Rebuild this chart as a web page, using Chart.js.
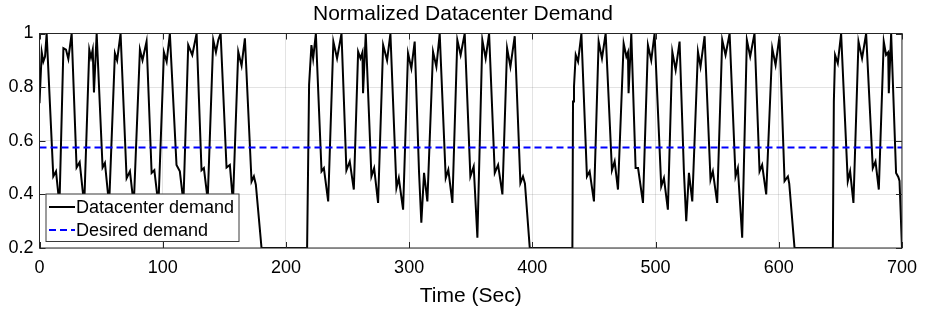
<!DOCTYPE html>
<html>
<head>
<meta charset="utf-8">
<title>Normalized Datacenter Demand</title>
<script src="https://cdn.jsdelivr.net/npm/chart.js@4.4.1/dist/chart.umd.min.js"></script>
<style>
  html, body { margin: 0; padding: 0; background: #fff; }
  #wrap { width: 926px; height: 310px; }
</style>
</head>
<body>
<div id="wrap"><canvas id="demandChart" width="926" height="310"></canvas></div>
<script>
// values (seconds / normalized demand)
const timeSec = [
  0, 1.8, 3.1, 4.5, 5.8, 11.2, 13.4, 16.2,
  19.4, 21.5, 23.4, 26.1, 30.1, 32.6, 36.3,
  40.4, 41.8, 43.2, 44.2, 46.4, 51.2, 53.1, 56.5,
  61.2, 63.0, 65.8, 70.7, 73.4, 76.5,
  81.5, 83.6, 86.9, 91.0, 93.2, 96.5,
  101.0, 103.2, 105.8, 111.2, 113.9, 116.8,
  120.7, 124.0, 127.5, 131.5, 133.4, 136.5,
  141.0, 143.2, 145.1, 147.0, 151.8, 154.5, 157.0,
  161.3, 164.0, 166.7, 172.1, 174.0, 175.6, 180.2,
  217.2, 218.8, 220.7, 222.1, 224.3, 228.9, 230.8, 234.3,
  238.5, 241.5, 245.1, 249.1, 251.8, 255.1,
  258.6, 260.5, 262.1, 262.6, 264.8, 269.4, 271.6, 274.8,
  278.9, 282.1, 284.8, 289.7, 291.6, 295.1,
  299.1, 301.8, 304.5, 308.0, 309.9, 312.1, 314.8,
  319.4, 322.1, 324.8, 329.7, 331.8, 335.1,
  339.1, 341.8, 345.1, 349.7, 352.4, 355.4,
  359.4, 362.1, 364.9, 369.5, 372.2, 375.7,
  379.5, 382.2, 385.7, 390.3, 392.4, 394.0, 397.9,
  432.5, 433.0, 433.8, 435.2, 437.1, 439.8, 444.3, 446.5, 450.0,
  453.8, 456.5, 459.5, 464.6, 466.8, 469.5,
  474.1, 476.3, 477.6, 478.1, 480.3, 483.8, 485.8, 489.8,
  493.8, 496.5, 499.2, 504.6, 506.8, 510.0,
  513.6, 516.3, 519.5, 523.0, 524.9, 527.1, 529.8,
  534.4, 536.5, 539.8, 544.6, 546.5, 550.0,
  554.1, 556.8, 560.1, 564.9, 566.8, 570.3,
  574.1, 576.8, 580.3, 584.4, 586.5, 589.8,
  594.7, 597.4, 600.6, 604.7, 607.4, 608.5, 612.8,
  643.9, 644.7, 645.7, 647.9, 650.6, 656.0, 657.9, 660.6,
  664.7, 667.6, 670.9, 676.3, 678.5, 681.2,
  685.2, 687.1, 688.8, 689.3, 691.2, 695.2, 697.0, 698.0, 700
];
const demand = [
  0.74, 0.93, 0.895, 0.914, 1.0, 0.467, 0.486, 0.36,
  0.945, 0.94, 0.905, 1.0, 0.50, 0.52, 0.36,
  0.94, 0.91, 0.94, 0.78, 1.0, 0.50, 0.517, 0.36,
  0.926, 0.90, 1.0, 0.46, 0.486, 0.36,
  0.94, 0.90, 0.97, 0.48, 0.49, 0.36,
  0.93, 0.895, 1.0, 0.51, 0.486, 0.37,
  0.957, 0.92, 1.0, 0.49, 0.498, 0.38,
  0.976, 0.93, 0.976, 1.0, 0.50, 0.51, 0.37,
  0.932, 0.88, 0.982, 0.448, 0.467, 0.436, 0.2,
  0.2, 0.81, 0.957, 0.907, 1.0, 0.486, 0.498, 0.374,
  0.97, 0.907, 1.0, 0.49, 0.523, 0.418,
  0.932, 0.907, 0.93, 0.777, 1.0, 0.467, 0.498, 0.368,
  0.957, 0.90, 1.0, 0.424, 0.461, 0.343,
  0.926, 0.87, 0.97, 0.486, 0.294, 0.48, 0.374,
  0.932, 0.876, 1.0, 0.461, 0.492, 0.368,
  0.976, 0.92, 1.0, 0.467, 0.504, 0.238,
  0.976, 0.907, 1.0, 0.48, 0.51, 0.40,
  0.945, 0.876, 0.99, 0.442, 0.467, 0.44, 0.2,
  0.2, 0.746, 0.802, 0.92, 0.895, 1.0, 0.467, 0.486, 0.374,
  0.97, 0.907, 1.0, 0.49, 0.523, 0.418,
  0.963, 0.914, 0.93, 0.777, 1.0, 0.498, 0.498, 0.368,
  0.957, 0.90, 1.0, 0.43, 0.461, 0.343,
  0.932, 0.864, 0.97, 0.486, 0.30, 0.48, 0.374,
  0.932, 0.876, 0.99, 0.455, 0.486, 0.368,
  0.976, 0.92, 1.0, 0.467, 0.498, 0.238,
  0.976, 0.914, 1.0, 0.486, 0.51, 0.40,
  0.945, 0.883, 0.99, 0.45, 0.467, 0.44, 0.2,
  0.2, 0.746, 0.92, 0.889, 1.0, 0.449, 0.486, 0.368,
  0.97, 0.907, 1.0, 0.498, 0.523, 0.418,
  0.97, 0.92, 0.93, 0.777, 1.0, 0.48, 0.465, 0.45, 0.2
];
const desiredTime = [0, 700];
const desiredDemand = [0.575, 0.575];

const xTicks = [0, 100, 200, 300, 400, 500, 600, 700];
const yTicks = [0.2, 0.4, 0.6, 0.8, 1];
const yTickLabels = ['0.2', '0.4', '0.6', '0.8', '1'];

const FONT = "'Liberation Sans', Arial, Helvetica, sans-serif";

function toPoints(xs, ys) {
  return xs.map((x, i) => ({ x: x, y: ys[i] }));
}

// matlab-like box with inward tick marks
const boxPlugin = {
  id: 'axesBox',
  afterDraw(chart) {
    const { ctx, chartArea: a, scales } = chart;
    ctx.save();
    ctx.strokeStyle = '#262626';
    ctx.lineWidth = 1;
    ctx.strokeRect(a.left, a.top, a.right - a.left, a.bottom - a.top);
    ctx.beginPath();
    const tl = 6;
    xTicks.forEach(v => {
      const px = Math.round(scales.x.getPixelForValue(v)) + 0.5;
      ctx.moveTo(px, a.bottom); ctx.lineTo(px, a.bottom - tl);
      ctx.moveTo(px, a.top); ctx.lineTo(px, a.top + tl);
    });
    yTicks.forEach(v => {
      const py = Math.round(scales.y.getPixelForValue(v)) + 0.5;
      ctx.moveTo(a.left, py); ctx.lineTo(a.left + tl, py);
      ctx.moveTo(a.right, py); ctx.lineTo(a.right - tl, py);
    });
    ctx.stroke();
    ctx.restore();
  }
};

// legend box in lower left corner of the axes
const legendBoxPlugin = {
  id: 'legendBox',
  afterDatasetsDraw(chart) {
    const { ctx, chartArea: a } = chart;
    const x0 = a.left + 6.5, y0 = a.bottom - 54, w = 193, h = 47.5;
    ctx.save();
    ctx.fillStyle = '#ffffff';
    ctx.fillRect(x0, y0, w, h);
    ctx.strokeStyle = '#3a3a3a';
    ctx.lineWidth = 1;
    ctx.strokeRect(x0, y0, w, h);
    const rows = chart.data.datasets;
    ctx.font = '18px ' + FONT;
    ctx.textBaseline = 'middle';
    ctx.textAlign = 'left';
    rows.forEach((ds, i) => {
      const cy = y0 + 13 + i * 23;
      ctx.beginPath();
      ctx.strokeStyle = ds.borderColor;
      ctx.lineWidth = ds.borderWidth;
      ctx.setLineDash(ds.borderDash || []);
      ctx.moveTo(x0 + 3, cy);
      ctx.lineTo(x0 + 29, cy);
      ctx.stroke();
      ctx.setLineDash([]);
      ctx.fillStyle = '#000';
      ctx.fillText(ds.label, x0 + 30, cy + 1);
    });
    ctx.restore();
  }
};

new Chart(document.getElementById('demandChart'), {
  type: 'line',
  data: {
    datasets: [
      {
        label: 'Datacenter demand',
        data: toPoints(timeSec, demand),
        borderColor: '#000000',
        borderWidth: 2,
        pointRadius: 0,
        tension: 0,
        order: 2
      },
      {
        label: 'Desired demand',
        data: toPoints(desiredTime, desiredDemand),
        borderColor: '#0000ff',
        borderWidth: 2,
        borderDash: [7, 4],
        pointRadius: 0,
        order: 1
      }
    ]
  },
  options: {
    responsive: false,
    animation: false,
    layout: { padding: 0 },
    plugins: {
      legend: { display: false },
      tooltip: { enabled: false },
      title: {
        display: true,
        text: 'Normalized Datacenter Demand',
        color: '#000',
        font: { family: FONT, size: 21, weight: 'normal' },
        padding: { top: 2, bottom: 6.3 }
      }
    },
    scales: {
      x: {
        type: 'linear',
        min: 0,
        max: 700,
        afterBuildTicks: s => { s.ticks = xTicks.map(v => ({ value: v })); },
        afterFit: s => { s.height = 62; },
        grid: { color: 'rgba(0,0,0,0.11)', drawTicks: false },
        border: { display: false },
        ticks: { color: '#000', padding: 9, maxRotation: 0, font: { family: FONT, size: 18 } },
        title: {
          display: true,
          text: 'Time (Sec)',
          color: '#000',
          font: { family: FONT, size: 21 },
          padding: { top: 0, bottom: 1 }
        }
      },
      y: {
        min: 0.2,
        max: 1,
        afterBuildTicks: s => { s.ticks = yTicks.map(v => ({ value: v })); },
        afterFit: s => { s.width = 39.5; },
        grid: { color: 'rgba(0,0,0,0.11)', drawTicks: false },
        border: { display: false },
        ticks: {
          color: '#000',
          padding: 6,
          font: { family: FONT, size: 18 },
          callback: (v, i) => yTickLabels[i]
        }
      },
      // empty right-hand strip so the title centres like the reference
      yRight: {
        position: 'right',
        min: 0.2,
        max: 1,
        afterFit: s => { s.width = 21; },
        grid: { display: false, drawOnChartArea: false },
        border: { display: false },
        ticks: { display: false }
      }
    }
  },
  plugins: [legendBoxPlugin, boxPlugin]
});
</script>
</body>
</html>
